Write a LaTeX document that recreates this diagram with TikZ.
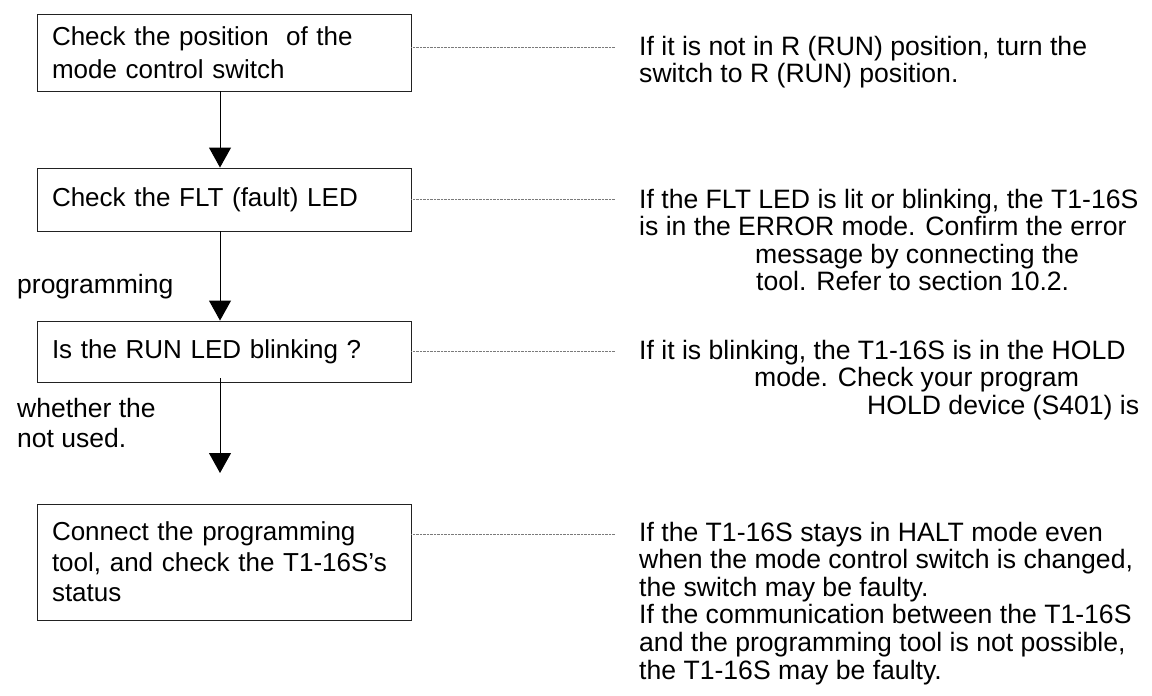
\documentclass[tikz,border=0pt]{standalone}
\usepackage{fontspec}
\setmainfont{Liberation Sans}
\usepackage{tikz}
\usetikzlibrary{arrows.meta,positioning}
\definecolor{leadgrey}{HTML}{7A7A7A}
\definecolor{boxline}{HTML}{222222}
\tikzset{
  step box/.style   = {draw=boxline, line width=0.9pt, text width=344pt,
                       inner xsep=15pt, inner ysep=0pt, align=left,
                       font=\fontsize{26}{30.5}\selectfont},
  note/.style       = {anchor=base west, inner sep=0pt, align=left,
                       font=\fontsize{26.6}{27.6}\selectfont},
  side label/.style = {anchor=base west, inner sep=0pt, align=left,
                       font=\fontsize{26.5}{30}\selectfont},
  flow/.style       = {-{Triangle[length=20pt,width=22pt]}, line width=0.9pt, black},
  leader/.style     = {leadgrey, line width=0.7pt, dash pattern=on 0.7pt off 0.7pt},
}

\begin{document}
\begin{tikzpicture}[x=1pt,y=-1pt]
  \useasboundingbox (0,0) rectangle (1152,696);
  \node[step box, minimum height=77pt] (mode) at (224,52.5)
    {\vspace*{3pt}Check the position\ \ of the\\mode control switch};
  \node[step box, minimum height=63pt] (flt) at (224,199.5)
    {Check the FLT (fault) LED};
  \node[step box, minimum height=61pt] (run) at (224,351.5)
    {Is the RUN LED blinking ?};
  \node[step box, minimum height=116pt] (tool) at (224,562)
    {Connect the programming\\tool, and check the T1-16S’s\\status};
  \coordinate (hold end) at (220,473);
  \draw[flow] ([xshift=-4pt]mode.south) -- ([xshift=-4pt]flt.north);
  \draw[flow] ([xshift=-4pt]flt.south) -- ([xshift=-4pt]run.north);
  \draw[flow] ([xshift=-4pt,yshift=4pt]run.south) -- (hold end);
  \coordinate (l1) at (615,47);
  \coordinate (l2) at (615,199);
  \coordinate (l3) at (615,351);
  \coordinate (l4) at (615,534);
  \draw[leader] (mode.east |- l1) -- (l1);
  \draw[leader] (flt.east |- l2) -- (l2);
  \draw[leader] (run.east |- l3) -- (l3);
  \draw[leader] (tool.east |- l4) -- (l4);
  % base west = baseline of the last line
  \node[note] (n1) at (639,82.6)
    {If it is not in R (RUN) position, turn the\\switch to R (RUN) position.};
  \node[note] (n2) at (639,290.8)
    {If the FLT LED is lit or blinking, the T1-16S\\is in the ERROR mode. Confirm the error\\
     \hspace*{116pt}message by connecting the\\\hspace*{117pt}tool. Refer to section 10.2.};
  \node[note] (n3) at (639,414.2)
    {If it is blinking, the T1-16S is in the HOLD\\\hspace*{115pt}mode. Check your program\\
     \hspace*{228pt}HOLD device (S401) is};
  \node[note] (n4) at (639,679)
    {If the T1-16S stays in HALT mode even\\when the mode control switch is changed,\\
     the switch may be faulty.\\If the communication between the T1-16S\\
     and the programming tool is not possible,\\the T1-16S may be faulty.};
  \node[side label] (prog) at (17,293) {programming};
  \node[side label] (whether) at (17,447) {whether the\\not used.};
\end{tikzpicture}
\end{document}
